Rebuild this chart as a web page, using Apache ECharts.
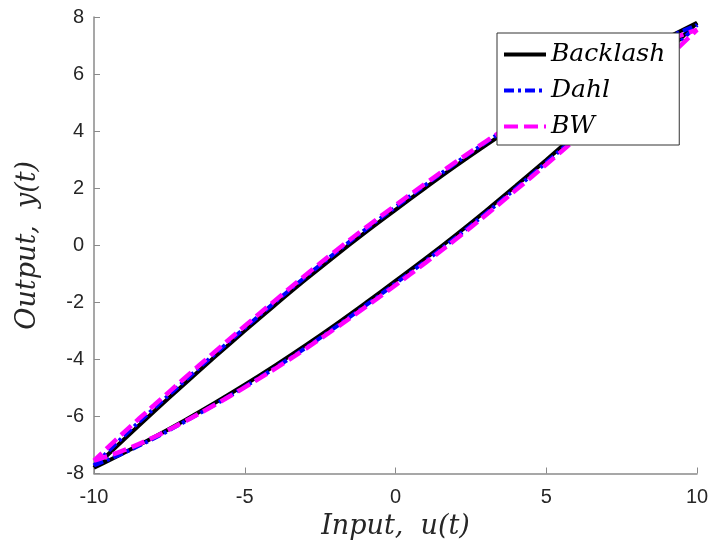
<!DOCTYPE html>
<html>
<head>
<meta charset="utf-8">
<script src="https://cdn.jsdelivr.net/npm/echarts@6/dist/echarts.min.js"></script>
<style>html,body{margin:0;padding:0;background:#fff;}#c{width:716px;height:558px;}</style>
</head>
<body>
<div id="c"></div>
<script>
// Input values (u), from -10 to 10
const u = [-10,-9,-8,-7,-6,-5,-4,-3,-2,-1,0,1,2,3,4,5,6,7,8,9,10];
// Ascending (lower) branches, read at each u
const backlashLower = [-7.8,-7.27,-6.72,-6.14,-5.53,-4.89,-4.22,-3.52,-2.79,-2.03,-1.25,-0.46,0.36,1.21,2.09,2.99,3.91,4.85,5.81,6.79,7.8];
const dahlLower     = [-7.72,-7.27,-6.76,-6.19,-5.59,-4.96,-4.3,-3.61,-2.88,-2.12,-1.34,-0.55,0.27,1.12,2.0,2.9,3.82,4.76,5.71,6.68,7.72];
const bwLower       = [-7.55,-7.18,-6.72,-6.18,-5.6,-4.98,-4.33,-3.64,-2.92,-2.17,-1.4,-0.61,0.21,1.06,1.94,2.83,3.74,4.66,5.6,6.55,7.55];
// Descending (upper) branches, read at each u
const backlashUpper = [-7.8,-6.8,-5.82,-4.86,-3.92,-3.0,-2.1,-1.22,-0.37,0.45,1.24,2.02,2.78,3.51,4.21,4.88,5.52,6.13,6.71,7.26,7.8];
const dahlUpper     = [-7.72,-6.68,-5.71,-4.76,-3.82,-2.9,-2.0,-1.12,-0.27,0.55,1.34,2.12,2.88,3.61,4.3,4.96,5.59,6.19,6.76,7.27,7.72];
const bwUpper       = [-7.55,-6.55,-5.6,-4.66,-3.74,-2.83,-1.94,-1.06,-0.21,0.61,1.4,2.17,2.92,3.64,4.33,4.98,5.6,6.18,6.72,7.18,7.55];
const seriesNames = ['Backlash','Dahl','BW'];
const xTicks = [-10,-5,0,5,10];
const yTicks = [-8,-6,-4,-2,0,2,4,6,8];

function loop(lower, upper){
  const pts = [];
  for (let i = 0; i < u.length; i++) pts.push([u[i], lower[i]]);
  for (let i = u.length - 1; i >= 0; i--) pts.push([u[i], upper[i]]);
  return pts;
}

const chart = echarts.init(document.getElementById('c'), null, {renderer:'canvas'});
const axisColor = '#8a8a8a';
const labelFont = {fontFamily:'Liberation Sans, Arial, sans-serif', fontSize:20, color:'#262626'};
const serif = 'DejaVu Serif, Liberation Serif, serif';
const nameFont = {fontFamily:serif, fontStyle:'italic', fontSize:27, color:'#262626'};

chart.setOption({
  animation:false,
  backgroundColor:'#fff',
  grid:{left:94, right:19, top:17, bottom:84.5, containLabel:false},
  xAxis:{
    type:'value', min:xTicks[0], max:xTicks[xTicks.length-1], interval:5,
    name:'Input,  u(t)', nameLocation:'middle', nameGap:40, nameTextStyle:nameFont,
    axisLine:{show:true, onZero:false, lineStyle:{color:axisColor, width:1.5}},
    axisTick:{show:true, inside:true, length:6, lineStyle:{color:axisColor}},
    axisLabel:Object.assign({margin:14}, labelFont),
    splitLine:{show:false}
  },
  yAxis:{
    type:'value', min:yTicks[0], max:yTicks[yTicks.length-1], interval:2,
    name:'Output,  y(t)', nameLocation:'middle', nameGap:53, nameTextStyle:nameFont,
    axisLine:{show:true, onZero:false, lineStyle:{color:axisColor, width:1.5}},
    axisTick:{show:true, inside:true, length:6, lineStyle:{color:axisColor}},
    axisLabel:Object.assign({margin:10}, labelFont),
    splitLine:{show:false}
  },
  legend:{
    orient:'vertical', left:497, top:33,
    backgroundColor:'#fff', borderColor:'#333', borderWidth:1,
    padding:[9,14,6,5], itemGap:11, itemWidth:42, itemHeight:14,
    itemStyle:{opacity:0},
    lineStyle:{width:4},
    textStyle:{fontFamily:serif, fontStyle:'italic', fontSize:25, color:'#000'},
    data:seriesNames
  },
  series:[
    {name:seriesNames[0], type:'line', data:loop(backlashLower, backlashUpper), showSymbol:false, symbol:'none', smooth:0.4,
     lineStyle:{color:'#000', width:4}, itemStyle:{color:'#000'}, z:1},
    {name:seriesNames[1], type:'line', data:loop(dahlLower, dahlUpper), showSymbol:false, symbol:'none', smooth:0.4,
     lineStyle:{color:'#0000ff', width:4, type:[10,4,3,4]}, itemStyle:{color:'#0000ff'}, z:2},
    {name:seriesNames[2], type:'line', data:loop(bwLower, bwUpper), showSymbol:false, symbol:'none', smooth:0.4,
     lineStyle:{color:'#ff00ff', width:4.5, type:[14,6]}, itemStyle:{color:'#ff00ff'}, z:3}
  ]
});
</script>
</body>
</html>
